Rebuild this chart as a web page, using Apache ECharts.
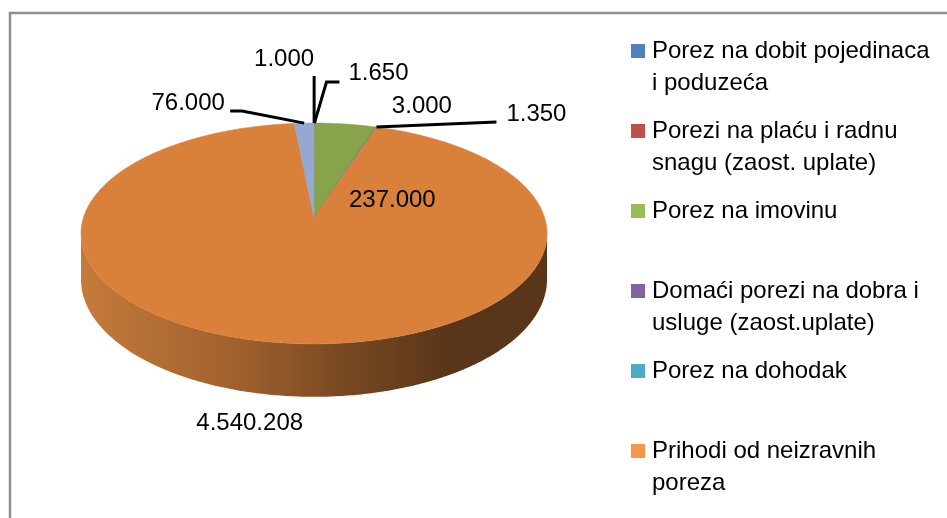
<!DOCTYPE html>
<html>
<head>
<meta charset="utf-8">
<script src="https://cdn.jsdelivr.net/npm/echarts@6/dist/echarts.min.js"></script>
<style>
html,body{margin:0;padding:0;background:#fff;}
#main{width:947px;height:518px;}
</style>
</head>
<body>
<div id="main"></div>
<script>
// podaci
var categories=['Porez na dobit pojedinaca i poduzeća','Porezi na plaću i radnu snagu (zaost. uplate)','Porez na imovinu',
	'Domaći porezi na dobra i usluge (zaost.uplate)','Porez na dohodak','Prihodi od neizravnih poreza','Ostali prihodi'];
var values=[1000,1650,237000,3000,1350,4540208,76000];
var legendNames=categories.slice(0,6);
var legendLines=['Porez na dobit pojedinaca\ni poduzeća','Porezi na plaću i radnu\nsnagu (zaost. uplate)','Porez na imovinu\n',
	'Domaći porezi na dobra i\nusluge (zaost.uplate)','Porez na dohodak\n','Prihodi od neizravnih\nporeza'];

var legendColors=['#4f81bd','#c0504d','#9bbb59','#8064a2','#4bacc6','#f79646','#95b3d7'];
var topColors=['#4577b0','#b34a47','#88a44b','#775d97','#46a0b8','#d9803b','#93a9d1'];
// polozaj labela u odnosu na sredinu ruba isjecka
var labelOff=[[-30,-64],[64,-50],[47,76],[46,-21],[160,-13],[-35,80],[-116,-20]];
var leaderOff=[[[0,-47]],[[12,-41],[25,-41]],null,null,[[120,-5]],null,[[-62,-12],[-74,-12]]];

var total=0;
for(var i=0;i<values.length;i++) total+=values[i];

// geometrija 3D pite
var cx=314,cy=217,A=230.4,B=108,K=0.149,D=45;
var frontR=Math.acos(-K),frontL=2*Math.PI-frontR;
function s(t){return 1/(1+K*Math.cos(t));}
function P(t){return [cx+A*Math.sin(t)*s(t),cy-B*Math.cos(t)*s(t)];}
function fmt(v){return String(v).replace(/\B(?=(\d{3})+(?!\d))/g,'.');}

function renderSlice(params,api){
	var i=params.seriesIndex;
	var start=0;
	for(var j=0;j<i;j++) start+=values[j];
	var a0=start/total*2*Math.PI,a1=(start+api.value(0))/total*2*Math.PI;
	var children=[];
	var f0=Math.max(a0,frontR),f1=Math.min(a1,frontL);
	if(f1>f0){
		var top=[],bot=[],n=Math.max(2,Math.ceil((f1-f0)/0.01));
		for(var k=0;k<=n;k++){
			var t=f0+(f1-f0)*k/n,p=P(t);
			top.push(p);
			bot.unshift([p[0],p[1]+D*s(t)]);
		}
		children.push({type:'polygon',z2:0,shape:{points:top.concat(bot)},
			style:{fill:{type:'linear',x:cx-A,y:0,x2:cx+A,y2:0,global:true,
				colorStops:[{offset:0,color:'#c47a3a'},{offset:0.35,color:'#9e5f2d'},{offset:0.55,color:'#7a4a23'},
					{offset:0.8,color:'#583519'},{offset:1,color:'#5a3619'}]}}});
	}
	var pts=[[cx,cy]],m=Math.max(2,Math.ceil((a1-a0)/0.01));
	for(var k=0;k<=m;k++) pts.push(P(a0+(a1-a0)*k/m));
	children.push({type:'polygon',z2:10,shape:{points:pts},style:{fill:topColors[i],stroke:topColors[i],lineWidth:0.5}});
	var anc=P((a0+a1)/2);
	if(leaderOff[i]){
		var lp=[anc];
		leaderOff[i].forEach(function(o){lp.push([anc[0]+o[0],anc[1]+o[1]]);});
		children.push({type:'polyline',z2:20,shape:{points:lp},style:{stroke:'#000',lineWidth:3,fill:null}});
	}
	children.push({type:'text',z2:30,style:{text:fmt(api.value(0)),x:anc[0]+labelOff[i][0],y:anc[1]+labelOff[i][1],
		fill:'#000',font:'24px "Liberation Sans"',align:'center',verticalAlign:'middle'}});
	return {type:'group',children:children};
}

var series=categories.map(function(name,i){
	return {name:name,type:'custom',coordinateSystem:'none',renderItem:renderSlice,
		itemStyle:{color:legendColors[i]},data:[values[i]]};
});

var myChart=echarts.init(document.getElementById('main'));
var option={
	animation:false,
	graphic:[{type:'rect',shape:{x:10,y:13,width:960,height:530},style:{fill:'none',stroke:'#8e8e8e',lineWidth:2.5},silent:true}],
	legend:{
		data:legendNames,
		orient:'vertical',
		left:631,
		top:3,
		padding:0,
		itemGap:-16,
		itemWidth:14,
		itemHeight:14,
		icon:'rect',
		selectedMode:false,
		formatter:function(name){return '\n'+legendLines[legendNames.indexOf(name)];},
		textStyle:{fontFamily:'Liberation Sans',fontSize:24,lineHeight:32,color:'#000',padding:[0,0,0,2]}
	},
	series:series
};
myChart.setOption(option);
</script>
</body>
</html>
